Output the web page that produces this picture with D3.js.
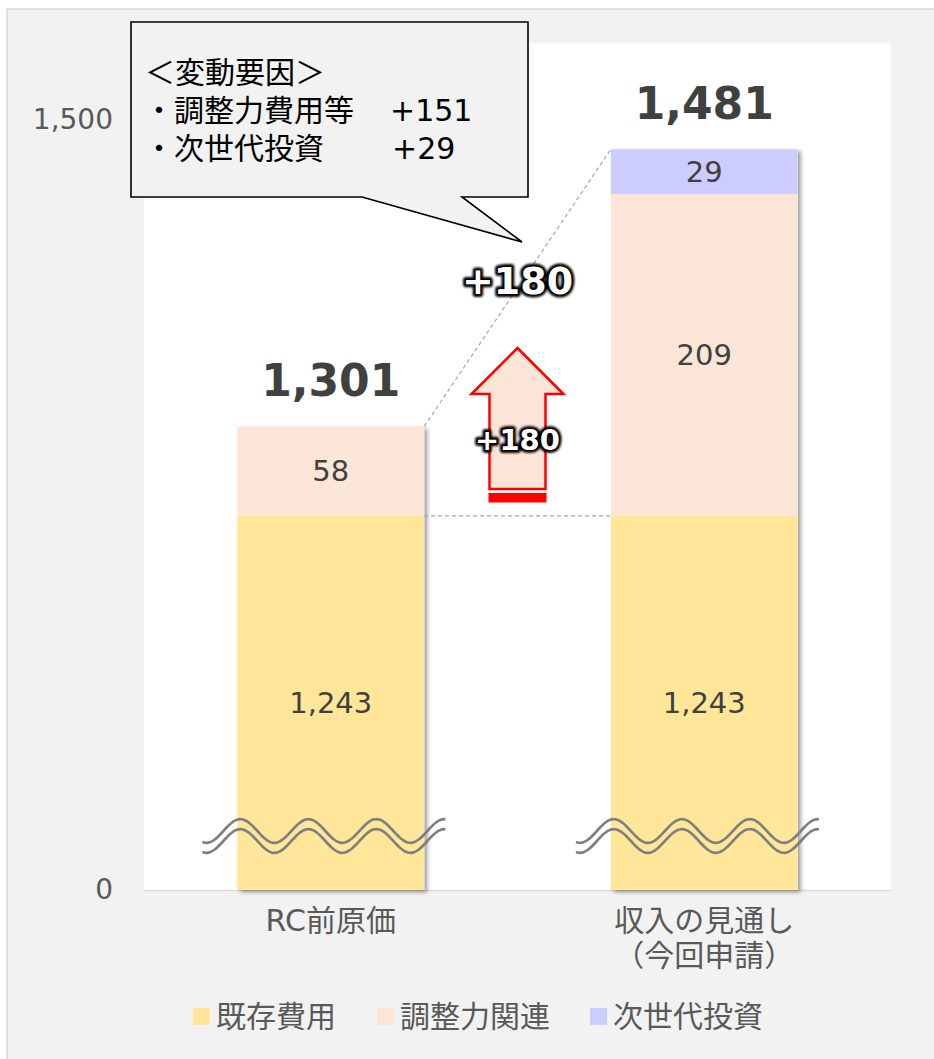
<!DOCTYPE html>
<html><head><meta charset="utf-8">
<script src="https://cdn.jsdelivr.net/npm/d3@7"></script>
<style>
html,body{margin:0;padding:0;background:#fff;}
svg{display:block;}
text{font-family:"DejaVu Sans","Noto Sans CJK JP",sans-serif;}
</style></head>
<body>
<script>
// ---- data ----
const categories = ["RC前原価", "収入の見通し\n（今回申請）"];
const seriesNames = ["既存費用", "調整力関連", "次世代投資"];
const existing = [1243, 1243];
const adjustment = [58, 209];
const nextGen = [0, 29];
const totals = [1301, 1481];
const tickValues = [0, 1500];
const delta = "+180";
const calloutTitle = "＜変動要因＞";
const calloutItems = ["・調整力費用等", "・次世代投資"];
const calloutValues = ["+151", "+29"];
const colors = ["#ffe699", "#fbe5d6", "#ccccff"];

const W = 934, H = 1059;
const plot = {x0: 144, x1: 891, y0: 43, y1: 890};
const svg = d3.select("body").append("svg").attr("width", W).attr("height", H);

const defs = svg.append("defs");
const sh = defs.append("filter").attr("id","shadow").attr("x","-10%").attr("y","-10%").attr("width","130%").attr("height","130%");
sh.append("feDropShadow").attr("dx",3).attr("dy",2).attr("stdDeviation",2.2).attr("flood-color","#000").attr("flood-opacity",0.4);
const gl = defs.append("filter").attr("id","glow").attr("x","-20%").attr("y","-40%").attr("width","140%").attr("height","180%");
gl.append("feGaussianBlur").attr("stdDeviation",1.3);

// background
svg.append("rect").attr("x",7).attr("y",9).attr("width",W).attr("height",H).attr("fill","#f2f2f2").attr("stroke","#d9d9d9").attr("stroke-width",1.5);
svg.append("rect").attr("x",plot.x0).attr("y",plot.y0).attr("width",plot.x1-plot.x0).attr("height",plot.y1-plot.y0).attr("fill","#fff");
svg.append("line").attr("x1",plot.x0).attr("x2",plot.x1).attr("y1",plot.y1+0.5).attr("y2",plot.y1+0.5).attr("stroke","#d9d9d9").attr("stroke-width",1.5);

// scales (axis truncated: bottom of plot stands for the break)
const x = d3.scaleBand().domain(categories).range([plot.x0, plot.x1]).paddingInner(0.5).paddingOuter(0.25);
const y = d3.scaleLinear().domain([1000, 1500]).range([plot.y1, 120]).clamp(true);

// axis
const ax = svg.append("g").attr("transform",`translate(${plot.x0},0)`)
  .call(d3.axisLeft(y).tickValues(tickValues).tickFormat(d3.format(",")).tickSize(0).tickPadding(31));
ax.select(".domain").remove();
ax.selectAll("text").attr("font-size",28).attr("fill","#595959").attr("font-family",'"DejaVu Sans",sans-serif');

// stacked data
const rows = categories.map((c,i)=>({cat:c, vals:[existing[i], adjustment[i], nextGen[i]]}));
const segs = [];
rows.forEach((r,i)=>{ let base=0; r.vals.forEach((v,k)=>{ if(v>0) segs.push({cat:r.cat, k, v, y0:base, y1:base+v}); base+=v; }); });

// bars with shadow
const barG = svg.append("g");
rows.forEach(r=>{
  const top = r.vals.reduce((a,b)=>a+b,0);
  barG.append("rect").attr("x",x(r.cat)).attr("width",x.bandwidth())
    .attr("y",y(top)).attr("height",y(0)-y(top)).attr("fill","#fff").attr("filter","url(#shadow)");
});
barG.selectAll("rect.seg").data(segs).join("rect").attr("class","seg")
  .attr("x",d=>x(d.cat)).attr("width",x.bandwidth())
  .attr("y",d=>y(d.y1)).attr("height",d=>y(d.y0)-y(d.y1)).attr("fill",d=>colors[d.k]);
barG.selectAll("text.seg").data(segs).join("text").attr("class","seg")
  .attr("x",d=>x(d.cat)+x.bandwidth()/2).attr("y",d=>(y(d.y0)+y(d.y1))/2)
  .attr("text-anchor","middle").attr("dominant-baseline","central")
  .attr("font-size",29).attr("fill","#404040").text(d=>d3.format(",")(d.v));

// totals
svg.selectAll("text.tot").data(rows).join("text").attr("class","tot")
  .attr("x",(d)=>x(d.cat)+x.bandwidth()/2).attr("y",(d,i)=>y(totals[i])-46)
  .attr("text-anchor","middle").attr("dominant-baseline","central")
  .attr("font-size",44).attr("font-weight","bold").attr("fill","#404040").text((d,i)=>d3.format(",")(totals[i]));

// dashed connectors
const c0 = categories[0], c1 = categories[1];
const conn = svg.append("g").attr("stroke","#a6a6a6").attr("stroke-width",1.2).attr("stroke-dasharray","4,3").attr("fill","none");
conn.append("line").attr("x1",x(c0)+x.bandwidth()).attr("y1",y(totals[0])).attr("x2",x(c1)).attr("y2",y(totals[1]));
conn.append("line").attr("x1",x(c0)+x.bandwidth()).attr("y1",y(existing[0])).attr("x2",x(c1)).attr("y2",y(existing[1]));

// wavy break marks
const waveG = svg.append("g").attr("fill","none").attr("stroke","#7f7f7f").attr("stroke-width",2.6);
const waveLine = d3.line().curve(d3.curveBasis);
categories.forEach(c=>{
  const xs = x(c) - 35, xe = x(c) + x.bandwidth() + 24;
  [0, 10].forEach(off=>{
    const pts = d3.range(xs, xe+0.1, 3).map(px=>[px, 831+off - 12*Math.cos(2*Math.PI*(px-(x(c)+3))/68)]);
    waveG.append("path").attr("d", waveLine(pts));
  });
});

// arrow
const ax0 = (x(c0)+x.bandwidth()+x(c1))/2;
const arrowG = svg.append("g");
const tipY = 348, headY = 394, shaftBot = 489, hw = 46, sw = 28;
arrowG.append("path").attr("d",
  `M${ax0},${tipY} L${ax0+hw},${headY} L${ax0+sw},${headY} L${ax0+sw},${shaftBot} L${ax0-sw},${shaftBot} L${ax0-sw},${headY} L${ax0-hw},${headY} Z`)
  .attr("fill","#fbe5d6").attr("stroke","#ff0000").attr("stroke-width",2.5).attr("stroke-linejoin","miter");
arrowG.append("rect").attr("x",ax0-sw-1).attr("y",shaftBot+4).attr("width",2*sw+2).attr("height",9.5).attr("fill","#ff0000");

// glowing labels
function glowText(tx, ty, size, str){
  const g = svg.append("g");
  g.append("text").attr("x",tx).attr("y",ty).attr("text-anchor","middle").attr("dominant-baseline","central")
   .attr("font-size",size).attr("font-weight","bold").attr("fill","#000").attr("stroke","#000").attr("stroke-width",6)
   .attr("stroke-linejoin","round").attr("filter","url(#glow)").text(str);
  g.append("text").attr("x",tx).attr("y",ty).attr("text-anchor","middle").attr("dominant-baseline","central")
   .attr("font-size",size).attr("font-weight","bold").attr("fill","#fff").text(str);
}
glowText(ax0, 440, 29, delta);
glowText(ax0, 281, 38, delta);

// callout
svg.append("path").attr("d","M131,22 L528,22 L528,197 L462,197 L522,242 L362,197 L131,197 Z")
  .attr("fill","#f2f2f2").attr("stroke","#000").attr("stroke-width",1.6).attr("stroke-linejoin","miter");
const ct = svg.append("g").attr("font-size",30).attr("fill","#000");
ct.append("text").attr("x",145).attr("y",83).text(calloutTitle);
calloutItems.forEach((s,i)=>{
  ct.append("text").attr("x",144).attr("y",121+38*i).text(s);
  ct.append("text").attr("x", i===0?390:392).attr("y",121+38*i).text(calloutValues[i]);
});

// category labels
categories.forEach(c=>{
  const lines = c.split("\n");
  const t = svg.append("text").attr("text-anchor","middle").attr("font-size",30).attr("fill","#595959");
  lines.forEach((s,j)=>t.append("tspan").attr("x",x(c)+x.bandwidth()/2).attr("y",931+35*j).text(s));
});

// legend
const legX = [193, 377, 590];
const lg = svg.append("g");
seriesNames.forEach((s,i)=>{
  lg.append("rect").attr("x",legX[i]).attr("y",1008).attr("width",17).attr("height",17).attr("fill",colors[i]);
  lg.append("text").attr("x",legX[i]+23).attr("y",1016).attr("dominant-baseline","central").attr("font-size",30).attr("fill","#595959").text(s);
});
</script>
</body></html>
